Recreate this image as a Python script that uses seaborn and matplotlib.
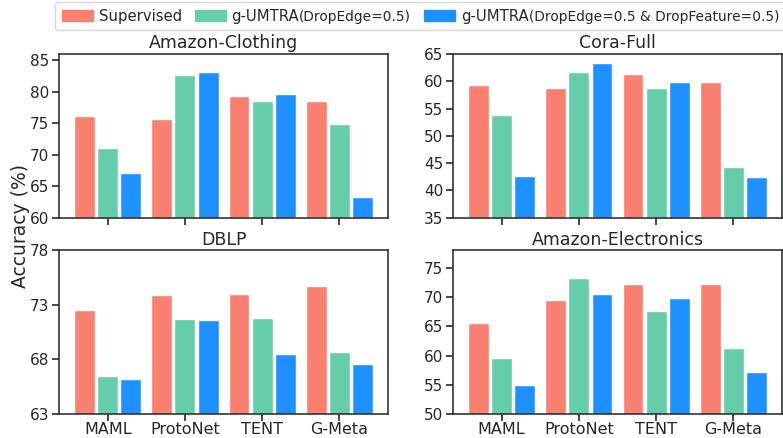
import pandas as pd
import seaborn as sns
import matplotlib.pyplot as plt
from matplotlib.offsetbox import TextArea, HPacker

# Data
methods = ['MAML', 'ProtoNet', 'TENT', 'G-Meta']
variants = ['Supervised', 'g-UMTRA(DropEdge=0.5)', 'g-UMTRA(DropEdge=0.5 & DropFeature=0.5)']
colors = ['#FA8072', '#66CDAA', '#1E90FF']

datasets = ['Amazon-Clothing', 'Cora-Full', 'DBLP', 'Amazon-Electronics']

clothing_sup = [76.2, 75.6, 79.4, 78.6]
clothing_edge = [71.0, 82.6, 78.6, 74.9]
clothing_both = [67.1, 83.2, 79.6, 63.3]

cora_sup = [59.3, 58.7, 61.3, 59.8]
cora_edge = [53.8, 61.7, 58.7, 44.2]
cora_both = [42.6, 63.3, 59.8, 42.4]

dblp_sup = [72.5, 73.9, 74.0, 74.7]
dblp_edge = [66.5, 71.7, 71.8, 68.7]
dblp_both = [66.2, 71.6, 68.5, 67.6]

elec_sup = [65.6, 69.6, 72.3, 72.3]
elec_edge = [59.6, 73.2, 67.7, 61.3]
elec_both = [55.0, 70.6, 69.9, 57.2]

values = {
    'Amazon-Clothing': [clothing_sup, clothing_edge, clothing_both],
    'Cora-Full': [cora_sup, cora_edge, cora_both],
    'DBLP': [dblp_sup, dblp_edge, dblp_both],
    'Amazon-Electronics': [elec_sup, elec_edge, elec_both],
}
ylims = {
    'Amazon-Clothing': (60, 86),
    'Cora-Full': (35, 65),
    'DBLP': (63, 78),
    'Amazon-Electronics': (50, 78),
}
yticks = {
    'Amazon-Clothing': [60, 65, 70, 75, 80, 85],
    'Cora-Full': [35, 40, 45, 50, 55, 60, 65],
    'DBLP': [63, 68, 73, 78],
    'Amazon-Electronics': [50, 55, 60, 65, 70, 75],
}

# Long-form table for seaborn
rows = []
for ds in datasets:
    for v, series in zip(variants, values[ds]):
        for m, val in zip(methods, series):
            rows.append({'dataset': ds, 'method': m, 'variant': v, 'acc': val})
df = pd.DataFrame(rows)

sns.set_style('ticks')
plt.rcParams['font.family'] = ['DejaVu Sans']

fig, axes = plt.subplots(2, 2, figsize=(7.83, 4.38), dpi=100)
fig.subplots_adjust(left=0.0754, right=0.9987, top=0.8767, bottom=0.0548,
                    wspace=0.1976, hspace=0.201)

for ax, ds in zip(axes.flat, datasets):
    sub = df[df['dataset'] == ds]
    sns.barplot(data=sub, x='method', y='acc', hue='variant', order=methods,
                hue_order=variants, palette=colors, width=0.9, gap=0.1,
                ax=ax, legend=False, saturation=1)
    ax.set_ylim(*ylims[ds])
    ax.set_yticks(yticks[ds])
    ax.set_xlim(-0.63, 3.63)
    ax.set_title(ds, fontsize=12.5, pad=4)
    ax.set_xlabel('')
    ax.set_ylabel('')
    ax.tick_params(axis='y', labelsize=11, length=5, width=1.2, pad=2)
    ax.tick_params(axis='x', labelsize=11.5, length=5, width=1.2, pad=1)
    for sp in ax.spines.values():
        sp.set_linewidth(1.2)
        sp.set_color('#333333')

for ax in axes[0]:
    ax.set_xticklabels([])

fig.text(0.026, 0.483, 'Accuracy (%)', rotation=90, va='center', ha='center', fontsize=13.5)

# Legend: main label at full size, the parenthetical part a bit smaller
handles = [plt.Rectangle((0, 0), 1, 1, color=c) for c in colors]
short_labels = ['Supervised', 'g-UMTRA', 'g-UMTRA']
extras = ['', '(DropEdge=0.5)', '(DropEdge=0.5 & DropFeature=0.5)']
leg = fig.legend(handles, short_labels, loc='upper left', bbox_to_anchor=(55 / 783, 1 - 2 / 438),
                 borderaxespad=0, ncol=3, fontsize=10.75, frameon=True, handlelength=2.08,
                 columnspacing=0.85, handletextpad=0.4, borderpad=0.45)
for col, extra in zip(leg._legend_handle_box.get_children(), extras):
    if not extra:
        continue
    item = col.get_children()[0]
    kids = item.get_children()
    extra_box = TextArea(extra, textprops=dict(fontsize=9.9, color=leg.texts[0].get_color()))
    kids[1] = HPacker(children=[kids[1], extra_box], align='baseline', pad=0, sep=0)
    kids[1].set_figure(fig)

plt.savefig('out.png', dpi=100)
